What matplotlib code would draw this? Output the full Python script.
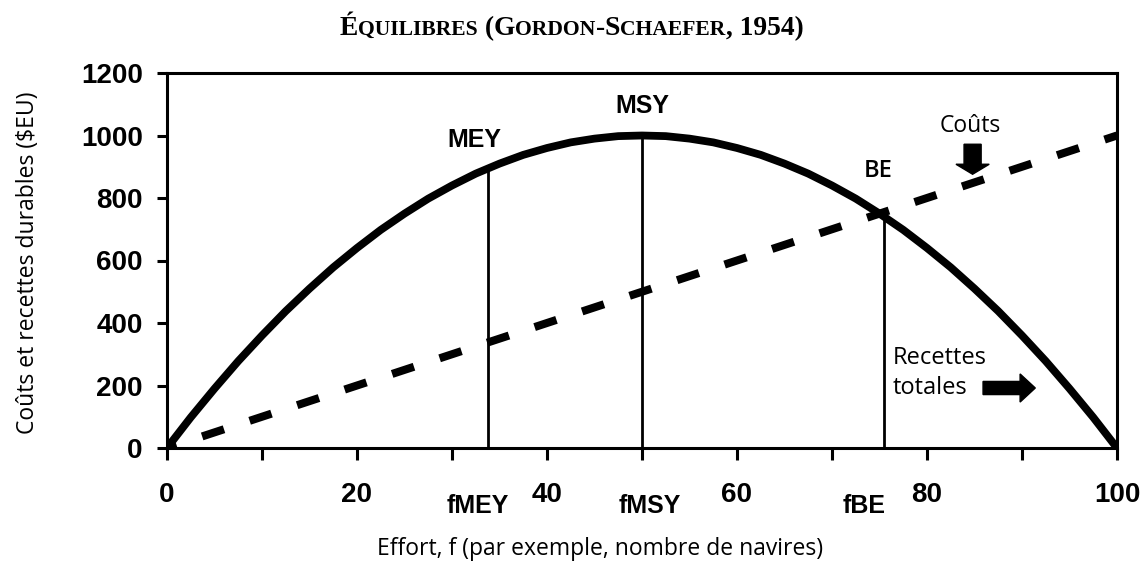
import matplotlib
matplotlib.use("Agg")
import matplotlib.pyplot as plt

# ---- data ----
effort = [0, 2.5, 5, 7.5, 10, 12.5, 15, 17.5, 20, 22.5, 25, 27.5, 30, 32.5, 35,
          37.5, 40, 42.5, 45, 47.5, 50, 52.5, 55, 57.5, 60, 62.5, 65, 67.5, 70,
          72.5, 75, 77.5, 80, 82.5, 85, 87.5, 90, 92.5, 95, 97.5, 100]
revenue = [0, 98, 190, 278, 360, 438, 510, 578, 640, 698, 750, 798, 840, 878, 910,
           938, 960, 978, 990, 998, 1000, 998, 990, 978, 960, 938, 910, 878, 840,
           798, 750, 698, 640, 578, 510, 438, 360, 278, 190, 98, 0]
cost_effort = [0, 100]
cost_values = [0, 1000]

eq_names = ["MEY", "MSY", "BE"]
eq_effort = [33.8, 50.0, 75.5]
eq_revenue = [893, 1000, 740]
f_labels = ["fMEY", "fMSY", "fBE"]

xticks_major = [0, 20, 40, 60, 80, 100]
xticks_minor = [10, 30, 50, 70, 90]
yticks = [0, 200, 400, 600, 800, 1000, 1200]

title_parts = [("É", "big"), ("QUILIBRES", "small"), (" (", "big"), ("G", "big"),
               ("ORDON", "small"), ("-", "big"), ("S", "big"), ("CHAEFER", "small"),
               (", 1954)", "big")]

W, H = 1144, 564
fig = plt.figure(figsize=(W / 100, H / 100), dpi=100)
ax = fig.add_axes([167 / W, 1 - 448 / H, 950 / W, 375 / H])

ax.plot(effort, revenue, color="black", lw=5.6, solid_capstyle="butt", zorder=3)
lw_c = 5.8
ax.plot(cost_effort, cost_values, color="black", lw=lw_c,
        linestyle=(9.36 / lw_c, (16.56 / lw_c, 19.44 / lw_c)),
        dash_capstyle="butt", zorder=3)

for f, r in zip(eq_effort, eq_revenue):
    ax.plot([f, f], [0, r], color="black", lw=2.0, zorder=2)

ax.set_xlim(0, 100)
ax.set_ylim(0, 1200)

for s in ax.spines.values():
    s.set_linewidth(2.2)

ax.set_xticks(xticks_major)
ax.set_xticks(xticks_minor, minor=True)
ax.set_yticks(yticks)
ax.tick_params(axis="x", which="both", direction="out", length=8.5, width=2.2,
               pad=16, labelsize=20)
ax.tick_params(axis="y", which="both", direction="out", length=7.5, width=2.2,
               pad=10, labelsize=20)
for lab in ax.get_xticklabels() + ax.get_yticklabels():
    lab.set_fontfamily("Liberation Sans")
    lab.set_fontweight("bold")

# equilibrium labels
bold_font = dict(family="Liberation Sans", weight="bold", size=18)
ax.text(32.4, 985, "MEY", ha="center", va="center", **bold_font)
ax.text(50.0, 1094, "MSY", ha="center", va="center", **bold_font)
ax.text(74.9, 886, "BE", ha="center", va="center", family="Open Sans", size=17,
        weight="semibold")

xa = ax.get_xaxis_transform()
fx = [32.7, 50.8, 73.4]
for x, lab in zip(fx, f_labels):
    ax.text(x, -0.155, lab, transform=xa, ha="center", va="center",
            clip_on=False, **bold_font)

# annotations with arrows
ax.text(84.6, 1030, "Coûts", ha="center", va="center", family="Open Sans", size=16.5)
ax.arrow(84.8, 972, 0, -96, width=1.8, head_width=3.5, head_length=32,
         length_includes_head=True, color="black", zorder=4)
ax.text(76.4, 240, "Recettes\ntotales", ha="left", va="center", family="Open Sans",
        size=17, linespacing=1.3)
ax.arrow(85.9, 192, 5.5, 0, width=42, head_width=90, head_length=1.6,
         length_includes_head=True, color="black", zorder=4)

ax.set_xlabel("Effort, f (par exemple, nombre de navires)", family="Open Sans",
              size=16.5, va="center")
ax.xaxis.set_label_coords((600 - 167) / 950, (448 - 549) / 375)
ax.set_ylabel("Coûts et recettes durables ($EU)", family="Open Sans", size=16.5,
              va="center")
ax.yaxis.set_label_coords((28 - 167) / 950, (448 - 263) / 375)

# small-caps title
renderer = fig.canvas.get_renderer()
x_px = 340
base_y = 1 - 35 / H
for txt, kind in title_parts:
    size = 19.8 if kind == "big" else 15.6
    t = fig.text(x_px / W, base_y, txt, family="Liberation Serif", weight="bold",
                 size=size, ha="left", va="baseline")
    x_px += t.get_window_extent(renderer).width

fig.savefig("out.png", dpi=100)
